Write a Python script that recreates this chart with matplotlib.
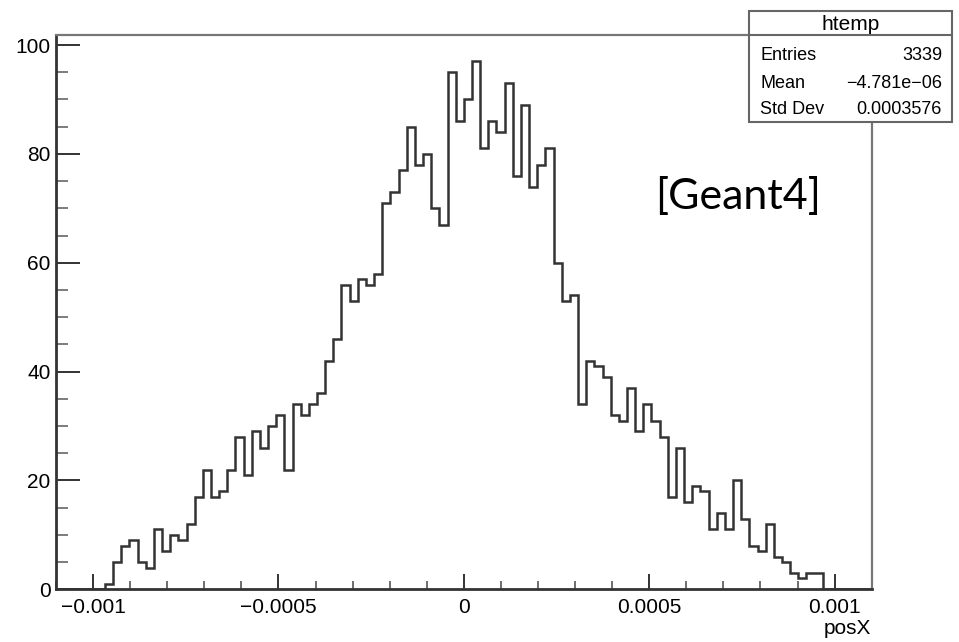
import numpy as np
import matplotlib
matplotlib.use("Agg")
import matplotlib.pyplot as plt
from matplotlib.patches import Rectangle
from matplotlib.lines import Line2D
from matplotlib.ticker import MultipleLocator

# histogram definition (htemp, posX)
x_min = -0.0011
x_max = 0.0011
n_bins = 100
counts = [0, 0, 0, 0, 0, 0, 1, 5, 8, 9,
          5, 4, 11, 7, 10, 9, 12, 17, 22, 17,
          18, 22, 28, 21, 29, 26, 30, 32, 22, 34,
          32, 34, 36, 42, 46, 56, 53, 57, 56, 58,
          71, 73, 77, 85, 78, 80, 70, 67, 95, 86,
          90, 97, 81, 86, 84, 93, 76, 89, 74, 78,
          81, 60, 53, 54, 34, 42, 41, 39, 32, 31,
          37, 29, 34, 31, 28, 17, 26, 16, 19, 18,
          11, 14, 11, 20, 13, 8, 7, 12, 6, 5,
          3, 2, 3, 3, 0, 0, 0, 0, 0, 0]

x_ticks = [-0.001, -0.0005, 0, 0.0005, 0.001]
x_tick_labels = ["\u22120.001", "\u22120.0005", "0", "0.0005", "0.001"]
y_ticks = [0, 20, 40, 60, 80, 100]

stat_names = ["Entries", "Mean", "Std Dev"]
stat_values = ["3339", "\u22124.781e\u221206", "0.0003576"]

W, H = 959, 642
plt.rcParams['font.family'] = ['Liberation Sans', 'DejaVu Sans']

fig = plt.figure(figsize=(W / 100, H / 100), dpi=100)


def fx(x):
    return x / W


def fy(y):
    return 1 - y / H


left, right, top, bottom = 56, 871.7, 35, 589.3
ax = fig.add_axes([fx(left), fy(bottom), (right - left) / W, (bottom - top) / H])

edges = np.linspace(x_min, x_max, n_bins + 1)
ax.stairs(counts, edges, baseline=0, color='#333333', lw=1.8)

ax.set_xlim(x_min, x_max)
ax.set_ylim(0, 1.05 * max(counts))

ax.set_xticks(x_ticks)
ax.set_xticklabels(x_tick_labels)
ax.set_yticks(y_ticks)
ax.xaxis.set_minor_locator(MultipleLocator(0.0001))
ax.yaxis.set_minor_locator(MultipleLocator(5))

ax.tick_params(axis='x', which='major', direction='in', length=10.8, width=1.4,
               color='#333333', labelsize=15, pad=6)
ax.tick_params(axis='x', which='minor', direction='in', length=5.5, width=1.2,
               color='#555555')
ax.tick_params(axis='y', which='major', direction='in', length=17.3, width=1.4,
               color='#333333', labelsize=15, pad=4)
ax.tick_params(axis='y', which='minor', direction='in', length=8.6, width=1.2,
               color='#666666')

for s in ['left', 'bottom']:
    ax.spines[s].set_color('#333333')
    ax.spines[s].set_linewidth(2.0)
for s in ['top', 'right']:
    ax.spines[s].set_color('#777777')
    ax.spines[s].set_linewidth(1.6)

fig.text(fx(871), fy(629), "posX", ha='right', va='center', fontsize=15)

# stats box
bx0, bx1, by0, by1, hdr = 749, 952, 11, 122, 35
fig.patches.append(Rectangle((fx(bx0), fy(by1)), (bx1 - bx0) / W, (by1 - by0) / H,
                             transform=fig.transFigure, facecolor='white',
                             edgecolor='#666666', lw=1.5, zorder=2))
fig.lines.append(Line2D([fx(bx0), fx(bx1)], [fy(hdr), fy(hdr)],
                        transform=fig.transFigure, color='#666666', lw=1.5, zorder=3))
fig.text(fx((bx0 + bx1) / 2), fy(24), "htemp", ha='center', va='center',
         fontsize=15, zorder=4)
row_y = [56, 83, 110]
for name, val, ry in zip(stat_names, stat_values, row_y):
    fig.text(fx(760), fy(ry), name, ha='left', va='center', fontsize=13, zorder=4)
    fig.text(fx(942), fy(ry), val, ha='right', va='center', fontsize=13, zorder=4)

fig.text(fx(738), fy(209), "[Geant4]", ha='center', va='baseline',
         fontsize=31, family=['Lato', 'DejaVu Sans'])

fig.savefig("out.png", dpi=100)
